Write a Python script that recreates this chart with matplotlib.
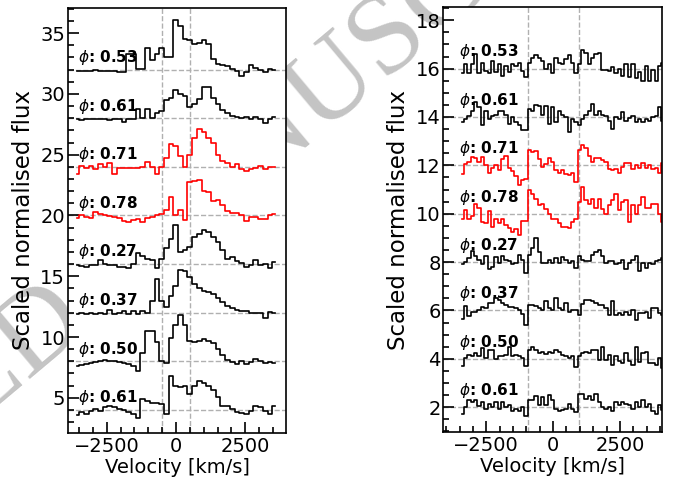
import numpy as np
import matplotlib
matplotlib.use('Agg')
import matplotlib.pyplot as plt
from matplotlib.ticker import MultipleLocator

# phases of the stacked spectra, top to bottom
PHASES = ['0.53', '0.61', '0.71', '0.78', '0.27', '0.37', '0.50', '0.61']
COLORS = ['k', 'k', 'r', 'r', 'k', 'k', 'k', 'k']

# left panel: bin centres in km/s and offsets of each spectrum
LEFT_VEL = np.arange(-3580, 3561, 170)
LEFT_OFFSETS = [32, 28, 24, 20, 16, 12, 8, 4]
LEFT_LINES = [-500, 500]

# right panel
RIGHT_VEL = np.arange(-3390, 4111, 125)
RIGHT_OFFSETS = [16, 14, 12, 10, 8, 6, 4, 2]
RIGHT_LINES = [-955, 955]

# left panel flux minus offset
L_053 = [-0.1, -0.1, -0.1, -0.1, -0.05, -0.1, -0.15, -0.15, -0.15, -0.2, -0.2,
         1.3, 1.3, 0.05, 0.05, 1.8, 0.8, 1.3, 1.8, 1.0, 1.0, 4.1, 3.6, 2.5, 2.4,
         2.1, 2.2, 2.4, 2.1, 0.9, 0.5, 0.4, 0.3, 0.05, -0.1, -0.5, -0.2, 0.4,
         0.1, -0.05, -0.2, 0.05, 0.0]
L_061 = [-0.1, -0.15, -0.05, -0.1, -0.1, -0.05, -0.05, -0.15, -0.1, -0.1, -0.3,
         -0.1, -0.1, 0.8, 0.0, 0.8, 0.0, 0.4, 0.6, 1.5, 1.7, 2.3, 2.0, 1.8, 0.9,
         1.2, 1.6, 2.6, 2.6, 1.7, 1.2, 0.7, 0.4, 0.2, 0.1, 0.05, 0.1, -0.05,
         0.1, -0.1, -0.4, -0.1, 0.1]
L_071 = [-0.6, 0.05, -0.1, 0.1, -0.2, 0.2, 0.0, 0.3, -0.6, -0.1, -0.1, -0.1,
         -0.1, -0.1, 0.0, 0.4, 0.0, -0.6, -0.05, 0.75, 1.85, 1.7, 0.9, 0.0, 1.0,
         2.4, 3.1, 2.9, 2.4, 2.0, 1.0, 0.5, 0.35, 0.0, 0.2, -0.2, -0.35, -0.2,
         -0.1, 0.05, -0.2, -0.05, 0.0]
L_078 = [-0.2, 0.0, -0.1, -0.2, 0.25, 0.1, 0.0, -0.05, -0.15, -0.2, -0.45,
         -0.55, -0.4, -0.25, -0.5, -0.2, -0.1, 0.05, 0.1, 0.45, 1.55, 0.05, 0.45,
         -0.35, 2.75, 2.8, 2.95, 2.05, 1.9, 1.2, 1.25, 0.9, 0.4, 0.2, 0.2, 0.05,
         -0.45, -0.1, -0.1, -0.3, -0.3, 0.0, 0.1]
L_027 = [-0.1, -0.15, -0.25, -0.1, -0.05, 0.3, 0.0, -0.05, -0.1, -0.2, -0.25,
         -0.35, 0.0, 0.9, 0.7, 0.4, 0.3, -0.3, 0.4, 1.3, 2.05, 3.25, 1.0, 1.2,
         1.4, 2.2, 2.5, 2.8, 2.6, 2.2, 1.8, 1.2, 0.4, 0.55, 0.25, 0.1, -0.2,
         -0.05, 0.3, -0.05, 0.0, -0.3, 0.2]
L_037 = [-0.1, -0.05, -0.1, 0.0, -0.1, -0.05, -0.1, 0.25, -0.1, 0.0, 0.1, -0.1,
         0.15, -0.1, 0.1, -0.05, 0.95, 2.75, 0.95, 0.5, 1.4, 2.2, 3.5, 3.45, 2.9,
         2.4, 2.0, 1.8, 1.7, 1.5, 1.2, 0.9, 0.55, 0.35, 0.25, 0.15, 0.1, 0.0,
         0.0, 0.0, -0.45, 0.05, 0.0]
L_050 = [-0.4, -0.3, -0.2, -0.15, -0.05, 0.0, 0.1, 0.05, 0.0, -0.05, -0.15,
         -0.2, -0.35, -0.8, 0.7, 2.5, 2.5, 1.6, 0.0, -0.15, 1.9, 3.0, 3.85, 3.0,
         1.7, 1.6, 1.7, 1.8, 1.65, 1.5, 1.0, 0.55, 0.1, -0.05, -0.25, 0.0,
         -0.25, -0.05, 0.15, 0.0, -0.1, -0.05, -0.1]
L_061B = [-0.4, -0.2, -0.35, -0.1, 0.05, -0.05, 0.2, 0.3, 0.2, 0.05, 0.0, -0.2,
          -0.3, -0.65, 0.9, 0.7, 0.6, 0.55, 0.5, -0.3, 2.8, 2.0, 1.9, 2.0, 1.3,
          2.0, 2.35, 2.25, 2.0, 1.6, 1.1, 0.35, 0.35, 0.05, -0.15, -0.25, -0.3,
          -0.1, 0.35, 0.2, -0.1, -0.35, 0.35]

# right panel flux minus offset
R_053 = [-0.2, 0.2, -0.2, 0.2, 0.6, -0.2, 0.25, -0.1, -0.2, 0.3, -0.15, 0.2,
         -0.3, 0.1, -0.15, 0.2, 0.1, 0.25, -0.1, -0.35, 0.25, 0.45, 0.55, 0.45,
         0.3, 0.0, 0.2, -0.2, 0.45, 0.25, 0.2, 0.4, 0.55, 0.25, -0.2, 0.2, 0.75,
         0.65, 0.2, 0.45, 0.6, 0.65, -0.05, -0.05, -0.1, 0.05, -0.2, 0.0, -0.3,
         0.2, -0.35, 0.2, -0.4, -0.15, -0.5, 0.1, -0.5, -0.05, -0.5, 0.1, 0.25]
R_061 = [-0.2, -0.1, 0.05, 0.25, 0.6, 0.4, -0.35, 0.25, -0.1, 0.05, 0.1, 0.25,
         0.25, 0.1, -0.3, 0.0, -0.2, -0.35, -0.55, -0.55, 0.35, 0.25, 0.5, 0.45,
         0.1, 0.45, -0.3, 0.4, -0.2, 0.25, 0.1, 0.0, -0.63, -0.1, -0.2, -0.35,
         -0.1, 0.1, 0.25, 0.55, 0.1, 0.25, 0.1, 0.05, -0.15, -0.5, 0.0, -0.1,
         0.2, -0.15, -0.05, 0.05, -0.2, -0.1, -0.2, -0.1, -0.15, 0.0, 0.05, 0.4,
         -0.15]
R_071 = [-0.35, 0.05, 0.15, 0.35, 0.3, 0.15, 0.35, 0.0, -0.3, -0.1, 0.0, -0.2,
         0.28, 0.37, -0.1, -0.25, -0.45, -0.8, -0.6, -0.55, 0.62, 0.55, 0.6,
         0.25, -0.05, 0.05, 0.3, 0.15, -0.2, -0.3, -0.2, -0.35, -0.4, -0.3, -0.7,
         0.62, 0.83, 0.7, 0.4, 0.15, 0.3, 0.3, 0.2, 0.15, -0.15, -0.2, -0.15,
         -0.3, -0.05, 0.1, 0.1, -0.15, 0.0, -0.1, 0.1, -0.1, 0.0, -0.15, -0.1,
         -0.3, 0.1]
R_078 = [-0.2, 0.15, -0.2, -0.1, 0.4, 0.25, -0.35, -0.4, 0.1, -0.55, -0.2,
         -0.4, -0.2, -0.45, -0.6, -0.75, -0.65, -0.9, -0.3, -0.3, 1.0, 0.8, 0.6,
         0.35, 0.4, 0.2, 0.0, -0.2, -0.2, -0.4, -0.55, -0.55, -0.6, -0.35, -0.2,
         0.5, 1.1, 0.55, 0.4, 0.6, 0.25, 0.6, 0.2, 0.0, 0.35, 0.55, 0.8, 0.15,
         0.5, 0.55, -0.35, 0.35, 0.0, 0.35, 0.7, 0.25, 0.25, 0.4, 0.4, 0.0,
         -0.35]
R_027 = [-0.1, 0.0, 0.18, 0.45, 0.25, 0.1, -0.1, 0.25, -0.3, -0.2, 0.2, -0.03,
         0.25, 0.1, 0.05, -0.07, -0.03, 0.3, 0.1, -0.45, 0.3, 0.6, 1.0, 0.4,
         -0.03, -0.03, 0.1, -0.03, 0.18, -0.03, 0.2, 0.1, -0.03, 0.05, -0.25,
         0.25, 0.1, 0.05, 0.05, 0.3, 0.4, 0.5, 0.25, -0.03, 0.05, 0.05, -0.1,
         -0.03, 0.1, -0.3, -0.03, 0.07, 0.25, -0.37, -0.03, -0.23, -0.03, -0.1,
         0.05, 0.1, 0.18]
R_037 = [-0.35, 0.2, -0.25, -0.05, -0.05, 0.03, 0.15, 0.1, 0.3, 0.3, 0.5, 0.45,
         0.3, 0.23, 0.15, 0.15, 0.1, 0.03, -0.15, -0.6, 0.23, 0.23, 0.2, 0.1,
         0.03, 0.37, 0.1, 0.03, 0.5, 0.1, 0.03, 0.3, -0.05, 0.03, 0.03, -0.2,
         0.25, 0.45, 0.45, 0.37, 0.3, 0.23, 0.23, 0.1, -0.2, 0.37, -0.2, -0.1,
         -0.2, -0.05, -0.2, 0.0, -0.4, -0.1, -0.1, -0.05, -0.3, 0.1, 0.1, -0.1,
         -0.2]
R_050 = [-0.28, 0.05, 0.17, 0.1, 0.23, 0.1, 0.44, 0.03, 0.35, 0.37, -0.02, 0.1,
         0.1, 0.17, 0.5, 0.12, 0.17, 0.1, 0.03, -0.3, 0.37, 0.5, 0.37, 0.23, 0.3,
         0.2, 0.3, 0.23, 0.37, 0.27, 0.17, 0.1, 0.03, 0.1, -0.32, 0.1, 0.23, 0.3,
         0.23, 0.37, 0.38, -0.04, 0.5, -0.04, 0.17, -0.25, 0.1, -0.1, -0.18,
         0.23, -0.1, -0.25, 0.5, -0.15, 0.23, 0.3, -0.18, -0.18, -0.25, 0.03,
         -0.38]
R_061B = [-0.28, 0.0, 0.28, 0.2, 0.3, 0.05, 0.2, -0.07, 0.14, 0.0, 0.2, -0.07,
          0.2, 0.0, 0.07, -0.14, -0.07, -0.14, 0.0, -0.35, 0.3, 0.3, 0.45, 0.07,
          0.4, 0.07, 0.5, 0.28, -0.07, -0.14, -0.1, -0.07, 0.14, -0.07, -0.2,
          0.55, 0.55, 0.35, 0.45, 0.28, 0.55, 0.2, 0.0, -0.07, 0.0, -0.14, 0.2,
          0.07, 0.2, 0.14, 0.07, -0.07, 0.2, 0.0, 0.28, 0.0, 0.14, -0.14, -0.28,
          0.07, -0.1]

LEFT_SPECTRA = [L_053, L_061, L_071, L_078, L_027, L_037, L_050, L_061B]
RIGHT_SPECTRA = [R_053, R_061, R_071, R_078, R_027, R_037, R_050, R_061B]

DASH = '#b0b0b0'


def plot_panel(ax, vel, spectra, offsets, vlines, label_x, label_dy, minor_y):
    for v in vlines:
        ax.axvline(v, color=DASH, ls='--', lw=1.0, zorder=0)
    for flux, off, phase, col in zip(spectra, offsets, PHASES, COLORS):
        ax.axhline(off, color=DASH, ls='--', lw=1.0, zorder=0)
        ax.step(vel, off + np.array(flux), where='mid', color=col, lw=1.2, zorder=2)
        ax.text(label_x, off + label_dy, r'$\phi$: ' + phase, fontsize=11,
                fontweight='bold', va='center', ha='left', zorder=3)
    ax.set_xlabel('Velocity [km/s]', fontsize=14, labelpad=1)
    ax.set_ylabel('Scaled normalised flux', fontsize=16.5)
    ax.xaxis.set_major_locator(MultipleLocator(2500))
    ax.xaxis.set_minor_locator(MultipleLocator(500))
    ax.yaxis.set_minor_locator(MultipleLocator(minor_y))
    ax.tick_params(which='both', direction='in', top=False, right=False,
                   labelsize=14, width=1.2)
    ax.tick_params(which='major', length=8)
    ax.tick_params(which='minor', length=4)
    ax.tick_params(axis='y', pad=2)
    ax.tick_params(axis='x', pad=3)
    for sp in ax.spines.values():
        sp.set_linewidth(1.2)


fig = plt.figure(figsize=(6.75, 4.79), dpi=100)

# grey stamp across the page, kept behind the (white) axes
fig.text(0.21, 0.48, 'ACCEPTED MANUSCRIPT', rotation=40, fontsize=83,
         family='Liberation Serif', color='#c4c4c4', ha='center', va='center',
         rotation_mode='anchor', zorder=-1)

ax1 = fig.add_axes([0.1007, 0.096, 0.3237, 0.888])
ax2 = fig.add_axes([0.657, 0.098, 0.3237, 0.887])

plot_panel(ax1, LEFT_VEL, LEFT_SPECTRA, LEFT_OFFSETS, LEFT_LINES, -3550, 1.0, 1)
ax1.set_xlim(-3900, 3990)
ax1.set_ylim(2.1, 37.1)
ax1.yaxis.set_major_locator(MultipleLocator(5))

plot_panel(ax2, RIGHT_VEL, RIGHT_SPECTRA, RIGHT_OFFSETS, RIGHT_LINES, -3520, 0.69, 0.5)
ax2.set_xlim(-4100, 4075)
ax2.set_ylim(0.97, 18.54)
ax2.yaxis.set_major_locator(MultipleLocator(2))

fig.savefig('out.png', dpi=100)
